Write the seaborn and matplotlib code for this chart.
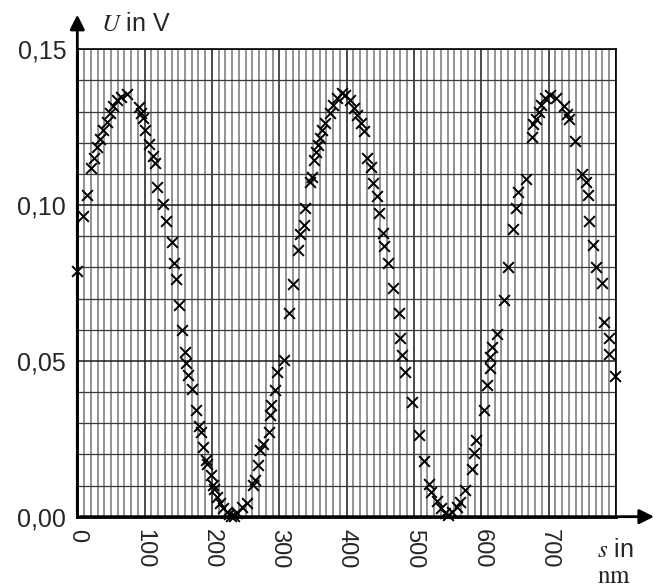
import matplotlib
matplotlib.use("Agg")
import matplotlib.pyplot as plt
from matplotlib.ticker import MultipleLocator, FuncFormatter
import seaborn as sns

s_nm = [0, 8, 14, 20, 25, 29, 34, 38, 44, 49,
        53, 59, 65, 74, 92, 94, 98, 101, 107, 112,
        115, 118, 128, 132, 140, 143, 146, 151, 156, 160,
        162, 165, 170, 176, 181, 183, 186, 191, 193, 198,
        201, 203, 207, 212, 217, 222, 226, 229, 233, 237,
        244, 252, 261, 264, 269, 272, 276, 284, 286, 287,
        294, 297, 307, 314, 320, 328, 331, 336, 338, 346,
        348, 351, 355, 358, 360, 364, 368, 375, 380, 385,
        393, 398, 405, 411, 416, 421, 426, 431, 436, 439,
        445, 448, 454, 456, 461, 469, 478, 479, 483, 487,
        497, 508, 515, 522, 526, 534, 540, 546, 551, 556,
        564, 568, 576, 586, 589, 592, 604, 609, 613, 613,
        616, 623, 634, 640, 647, 652, 655, 666, 676, 677,
        682, 685, 689, 695, 702, 711, 723, 728, 731, 739,
        749, 755, 759, 760, 766, 771, 780, 782, 789, 790,
        799]
U_V = [0.0790, 0.0965, 0.1032, 0.1118, 0.1152, 0.1185, 0.1212, 0.1241, 0.1267, 0.1295,
       0.1318, 0.1337, 0.1347, 0.1355, 0.1316, 0.1297, 0.1279, 0.1241, 0.1196, 0.1158,
       0.1134, 0.1059, 0.1004, 0.0950, 0.0883, 0.0815, 0.0762, 0.0679, 0.0599, 0.0530,
       0.0492, 0.0455, 0.0410, 0.0342, 0.0291, 0.0273, 0.0225, 0.0182, 0.0169, 0.0134,
       0.0102, 0.0088, 0.0064, 0.0045, 0.0027, 0.0016, 0.0009, 0.0003, 0.0003, 0.0013,
       0.0030, 0.0045, 0.0102, 0.0118, 0.0166, 0.0214, 0.0233, 0.0273, 0.0326, 0.0358,
       0.0407, 0.0463, 0.0503, 0.0653, 0.0748, 0.0855, 0.0907, 0.0936, 0.0991, 0.1073,
       0.1091, 0.1145, 0.1171, 0.1193, 0.1214, 0.1241, 0.1262, 0.1295, 0.1321, 0.1343,
       0.1359, 0.1353, 0.1337, 0.1311, 0.1289, 0.1262, 0.1239, 0.1150, 0.1121, 0.1072,
       0.1030, 0.0976, 0.0909, 0.0870, 0.0815, 0.0733, 0.0653, 0.0573, 0.0519, 0.0465,
       0.0369, 0.0262, 0.0180, 0.0105, 0.0080, 0.0051, 0.0027, 0.0011, 0.0005, 0.0016,
       0.0032, 0.0048, 0.0086, 0.0152, 0.0205, 0.0246, 0.0342, 0.0423, 0.0476, 0.0512,
       0.0543, 0.0585, 0.0695, 0.0800, 0.0922, 0.0990, 0.1043, 0.1084, 0.1218, 0.1260,
       0.1275, 0.1300, 0.1321, 0.1343, 0.1353, 0.1343, 0.1318, 0.1292, 0.1275, 0.1207,
       0.1100, 0.1075, 0.1032, 0.0950, 0.0872, 0.0802, 0.0749, 0.0626, 0.0573, 0.0522,
       0.0452]

x_ticks = [0, 100, 200, 300, 400, 500, 600, 700, 800]
y_ticks = [0.00, 0.05, 0.10, 0.15]

sns.set_style("white")
plt.rcParams['font.family'] = ['Liberation Sans', 'DejaVu Sans']
plt.rcParams['mathtext.fontset'] = 'stix'

fig = plt.figure(figsize=(6.63, 5.88), dpi=100)
ax = fig.add_axes([0.1166, 0.1213, 0.8124, 0.7949])

ax.set_xlim(0, 800)
ax.set_ylim(0, 0.15)

# grid: fine lines every 10 nm / 0.01 V
ax.xaxis.set_major_locator(MultipleLocator(100))
ax.xaxis.set_minor_locator(MultipleLocator(10))
ax.yaxis.set_major_locator(MultipleLocator(0.05))
ax.yaxis.set_minor_locator(MultipleLocator(0.01))
ax.grid(which='minor', axis='x', color='#8a8a8a', lw=1.3)
ax.grid(which='major', axis='x', color='#1a1a1a', lw=1.1)
ax.grid(which='minor', axis='y', color='#3a3a3a', lw=0.9)
ax.grid(which='major', axis='y', color='#1a1a1a', lw=1.1)
ax.set_axisbelow(True)

sns.scatterplot(x=s_nm, y=U_V, marker='x', color='black', s=60,
                linewidth=1.4, ax=ax, clip_on=False, zorder=5)

ax.set_xticks(x_ticks)
ax.set_yticks(y_ticks)
ax.yaxis.set_major_formatter(FuncFormatter(lambda v, p: f"{v:.2f}".replace('.', ',')))
ax.set_xticklabels([str(t) if t < 800 else "" for t in x_ticks], rotation=270)
ax.tick_params(which='minor', length=0)
ax.tick_params(which='major', direction='out', length=5, width=1.5, color='black',
               labelsize=17, pad=4)
ax.tick_params(axis='y', labelsize=18, pad=3)

for side in ['top', 'right']:
    ax.spines[side].set_color('black')
    ax.spines[side].set_linewidth(1.2)
for side in ['left', 'bottom']:
    ax.spines[side].set_color('black')
    ax.spines[side].set_linewidth(2)

# axis arrows
ax.annotate('', xy=(0, 1.08), xytext=(0, 0), xycoords='axes fraction',
            arrowprops=dict(arrowstyle='-|>', color='black', lw=2, mutation_scale=22))
ax.annotate('', xy=(1.076, 0), xytext=(0, 0), xycoords='axes fraction',
            arrowprops=dict(arrowstyle='-|>', color='black', lw=2, mutation_scale=22))

fig.text(0.152, 0.96, r"$U$ in V", fontsize=18, va='center', ha='left')
fig.text(0.900, 0.064, r"$s$ in", fontsize=18, va='center', ha='left')
fig.text(0.900, 0.020, r"$\mathrm{nm}$", fontsize=18, va='center', ha='left')

fig.savefig("out.png", dpi=100)
